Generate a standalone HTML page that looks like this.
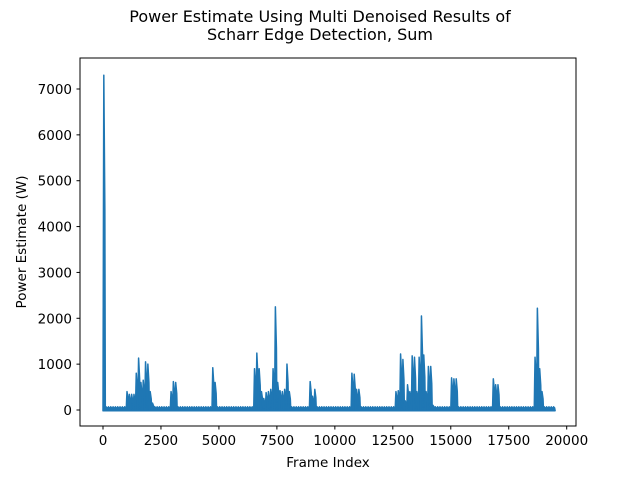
<!DOCTYPE html>
<html><head><meta charset="utf-8"><style>
body{margin:0;background:#fff;}
svg text{font-family:"DejaVu Sans","Liberation Sans",sans-serif;fill:#000;}
</style></head><body>
<svg width="640" height="480" viewBox="0 0 640 480" xmlns="http://www.w3.org/2000/svg">
<rect width="640" height="480" fill="#fff"/>
<text x="320" y="22" font-size="16" text-anchor="middle">Power Estimate Using Multi Denoised Results of</text>
<text x="320" y="40" font-size="16" text-anchor="middle">Scharr Edge Detection, Sum</text>
<g id="plot"></g>
<rect x="80" y="58" width="496" height="368" fill="none" stroke="#000" stroke-width="1"/>
<g id="xticks"></g>
<g id="yticks"></g>
<text x="328" y="467" font-size="13.5" text-anchor="middle">Frame Index</text>
<text transform="translate(26,242) rotate(-90)" font-size="13.5" text-anchor="middle">Power Estimate (W)</text>
</svg>
<script>
const binSize = 100;
const binMax = [7300,70,70,70,70,70,70,70,70,70,
400,340,340,340,800,1130,600,650,1050,1000,
400,150,70,70,70,70,70,70,70,400,
620,600,70,70,70,70,70,70,70,70,
70,70,70,70,70,70,70,920,600,70,
70,70,70,70,70,70,70,70,70,70,
70,70,70,70,70,900,1240,900,400,250,
380,400,450,900,2250,600,420,400,450,1000,
400,70,70,70,70,70,70,70,70,620,
300,450,70,70,70,70,70,70,70,70,
70,70,70,70,70,70,70,800,780,450,
450,70,70,70,70,70,70,70,70,70,
70,70,70,70,70,70,400,420,1220,1100,
200,550,400,1180,1150,400,1150,2050,1200,400,
950,950,100,70,70,70,70,70,70,70,
700,680,680,70,70,70,70,70,70,70,
70,70,70,70,70,70,70,70,680,550,
550,70,70,70,70,70,70,70,70,70,
70,70,70,70,70,70,1150,2220,900,400,
70,70,70,70,70];
const binMin = -15;
const xTicks = [0,2500,5000,7500,10000,12500,15000,17500,20000];
const yTicks = [0,1000,2000,3000,4000,5000,6000,7000];

const NS="http://www.w3.org/2000/svg";
function xs(f){return 103 + f*0.023185;}
function ys(v){return 410 - v*0.045857;}

const plot=document.getElementById('plot');
const base=document.createElementNS(NS,'rect');
base.setAttribute('x',xs(0));
base.setAttribute('y',ys(60));
base.setAttribute('width',xs(binMax.length*binSize)-xs(0));
base.setAttribute('height',ys(binMin)-ys(60));
base.setAttribute('fill','#1f77b4');


plot.appendChild(base);
let d='';
binMax.forEach((v,i)=>{
  const f0=i*binSize;
  const x0=xs(f0), xa=xs(f0+binSize*0.2), xm=xs(f0+binSize*0.35), xb=xs(f0+binSize*0.8), x1=xs(f0+binSize);
  const y0=ys(binMin), y1=ys(v), yh=ys(v*0.6);
  d+=`M${x0.toFixed(2)},${y0.toFixed(2)} L${xa.toFixed(2)},${yh.toFixed(2)} L${xm.toFixed(2)},${y1.toFixed(2)} L${xb.toFixed(2)},${yh.toFixed(2)} L${x1.toFixed(2)},${y0.toFixed(2)} Z `;
});
const p=document.createElementNS(NS,'path');
p.setAttribute('d',d);
p.setAttribute('fill','#1f77b4');
p.setAttribute('stroke','#1f77b4');
p.setAttribute('stroke-width','1.5');
p.setAttribute('stroke-linejoin','round');


plot.appendChild(p);

const xg=document.getElementById('xticks');
xTicks.forEach(t=>{
  const x=xs(t);
  const l=document.createElementNS(NS,'line');
  l.setAttribute('x1',x);l.setAttribute('x2',x);l.setAttribute('y1',426);l.setAttribute('y2',429.5);
  l.setAttribute('stroke','#000');
  
  
  xg.appendChild(l);
  const tx=document.createElementNS(NS,'text');
  tx.setAttribute('x',x);tx.setAttribute('y',445);tx.setAttribute('font-size','13.5');tx.setAttribute('text-anchor','middle');
  tx.textContent=t;
  
  
  xg.appendChild(tx);
});
const yg=document.getElementById('yticks');
yTicks.forEach(t=>{
  const y=ys(t);
  const l=document.createElementNS(NS,'line');
  l.setAttribute('x1',76.5);l.setAttribute('x2',80);l.setAttribute('y1',y);l.setAttribute('y2',y);
  l.setAttribute('stroke','#000');
  
  
  yg.appendChild(l);
  const tx=document.createElementNS(NS,'text');
  tx.setAttribute('x',72);tx.setAttribute('y',y+5);tx.setAttribute('font-size','13.5');tx.setAttribute('text-anchor','end');
  tx.textContent=t;
  
  
  yg.appendChild(tx);
});
</script>
</body></html>
